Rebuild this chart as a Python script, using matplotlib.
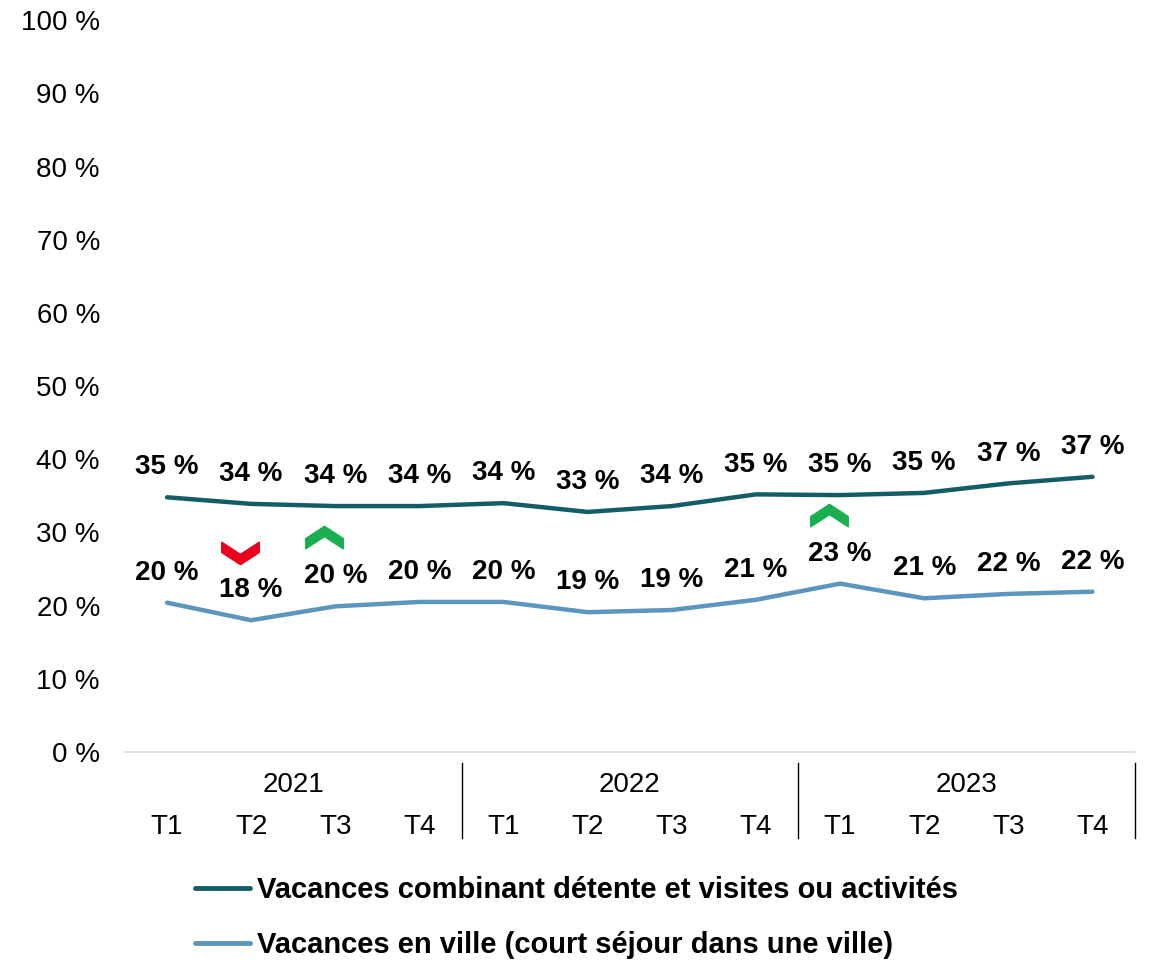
import numpy as np
import matplotlib
matplotlib.use("Agg")
import matplotlib.pyplot as plt
from matplotlib.path import Path
from matplotlib.transforms import offset_copy, blended_transform_factory
from matplotlib.lines import Line2D

plt.rcParams['font.family'] = ['Liberation Sans', 'DejaVu Sans']

# donnees
annees = ["2021", "2022", "2023"]
trimestres = ["T1", "T2", "T3", "T4"] * 3
detente = [34.8, 33.9, 33.6, 33.6, 34.0, 32.8, 33.6, 35.2, 35.1, 35.4, 36.7, 37.6]
detente_lab = ["35 %", "34 %", "34 %", "34 %", "34 %", "33 %", "34 %", "35 %", "35 %", "35 %", "37 %", "37 %"]
ville = [20.4, 18.0, 19.9, 20.5, 20.5, 19.1, 19.4, 20.8, 23.0, 21.0, 21.6, 21.9]
ville_lab = ["20 %", "18 %", "20 %", "20 %", "20 %", "19 %", "19 %", "21 %", "23 %", "21 %", "22 %", "22 %"]
# fleches d'evolution significative sur la serie "ville"
hausse = [2, 8]
baisse = [1]

noms = ["Vacances combinant détente et visites ou activités",
        "Vacances en ville (court séjour dans une ville)"]
c_fonce = "#135E66"
c_clair = "#5B96BE"

fig = plt.figure(figsize=(11.53, 9.6), dpi=100)
ax = fig.add_axes([0.1084, 0.2167, 0.8756, 0.7623])

x = np.arange(len(detente))
ax.plot(x, detente, color=c_fonce, lw=3.2, solid_capstyle='round')
ax.plot(x, ville, color=c_clair, lw=3.2, solid_capstyle='round')

for i in x:
    ax.annotate(detente_lab[i], (i, detente[i]), xytext=(0, 21.5), textcoords='offset points',
                ha='center', va='center', fontsize=20, fontweight='bold')
    ax.annotate(ville_lab[i], (i, ville[i]), xytext=(0, 21.5), textcoords='offset points',
                ha='center', va='center', fontsize=20, fontweight='bold')

# chevrons
up = Path([(-1, 0.0), (0, 0.65), (1, 0.0), (1, -0.55), (0, 0.1), (-1, -0.55), (-1, 0.0)],
          [Path.MOVETO] + [Path.LINETO] * 5 + [Path.CLOSEPOLY])
down = Path([(-1, 0.0), (0, -0.65), (1, 0.0), (1, 0.55), (0, -0.1), (-1, 0.55), (-1, 0.0)],
            [Path.MOVETO] + [Path.LINETO] * 5 + [Path.CLOSEPOLY])
tr = offset_copy(ax.transData, fig=fig, x=-8, y=49, units='points')
ax.plot([x[i] for i in hausse], [ville[i] for i in hausse], ls='none', marker=up,
        markersize=27, color="#19AF50", transform=tr)
ax.plot([x[i] for i in baisse], [ville[i] for i in baisse], ls='none', marker=down,
        markersize=27, color="#E8001C", transform=tr)

ax.set_xlim(-0.5, len(x) - 0.5)
ax.set_ylim(0, 100)
ax.set_yticks(np.arange(0, 101, 10))
ax.set_yticklabels([f"{v} %" for v in range(0, 101, 10)], fontsize=20)
ax.tick_params(axis='y', length=0, pad=18)
ax.tick_params(axis='x', length=0, labelbottom=False)
for s in ['top', 'right', 'left']:
    ax.spines[s].set_visible(False)
ax.spines['bottom'].set_color('#D9D9D9')
ax.spines['bottom'].set_linewidth(1.2)

# axe des categories a deux niveaux
bt = blended_transform_factory(ax.transData, ax.transAxes)
for i in x:
    ax.text(i, -0.1025, trimestres[i], transform=bt, ha='center', va='center', fontsize=20)
for k, a in enumerate(annees):
    ax.text(4 * k + 1.5, -0.045, a, transform=bt, ha='center', va='center', fontsize=20)
    ax.add_line(Line2D([4 * k + 3.5, 4 * k + 3.5], [-0.015, -0.1175], transform=bt,
                       color='black', lw=1, clip_on=False))

h = [Line2D([], [], color=c_fonce, lw=3.5, solid_capstyle='round'),
     Line2D([], [], color=c_clair, lw=3.5, solid_capstyle='round')]
leg = fig.legend(h, noms, loc='upper left', bbox_to_anchor=(0.169, 0.087), frameon=False,
                 prop={'size': 21, 'weight': 'bold'}, handlelength=1.9, handletextpad=0.24,
                 labelspacing=0.92, borderpad=0, borderaxespad=0)

fig.savefig("out.png", dpi=100)
